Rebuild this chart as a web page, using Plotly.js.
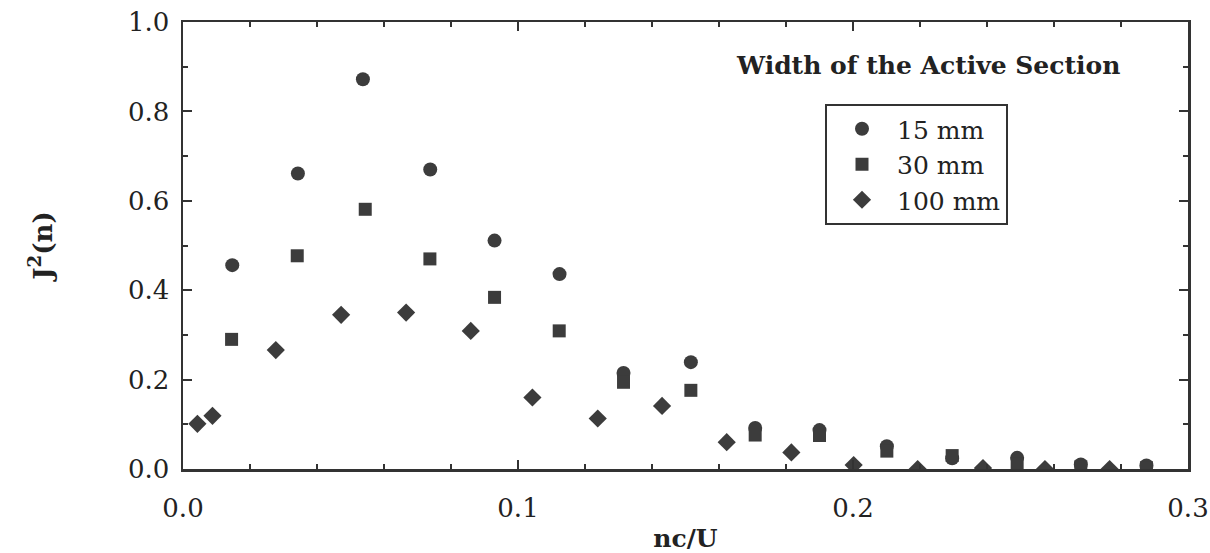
<!DOCTYPE html>
<html>
<head>
<meta charset="utf-8">
<script src="https://cdn.plot.ly/plotly-3.0.1.min.js"></script>
<style>html,body{margin:0;padding:0;background:#fff;}#chart{width:1210px;height:553px;}</style>
</head>
<body>
<div id="chart"></div>
<script>
// 15 mm (circles)
const x15 = [0.0147, 0.0343, 0.0537, 0.0738, 0.0930, 0.1124, 0.1315, 0.1516, 0.1708, 0.1900, 0.2101, 0.2296, 0.2490, 0.2680, 0.2876];
const y15 = [0.456, 0.661, 0.872, 0.670, 0.511, 0.436, 0.215, 0.239, 0.092, 0.087, 0.051, 0.024, 0.025, 0.010, 0.008];
// 30 mm (squares)
const x30 = [0.0145, 0.0341, 0.0544, 0.0737, 0.0930, 0.1123, 0.1315, 0.1516, 0.1708, 0.1900, 0.2101, 0.2296, 0.2490, 0.2680, 0.2876];
const y30 = [0.290, 0.477, 0.581, 0.470, 0.384, 0.309, 0.194, 0.176, 0.076, 0.075, 0.040, 0.030, 0.011, 0.005, 0.003];
// 100 mm (diamonds)
const x100 = [0.0043, 0.0088, 0.0277, 0.0472, 0.0666, 0.0859, 0.1043, 0.1238, 0.1430, 0.1623, 0.1816, 0.2002, 0.2193, 0.2388, 0.2573, 0.2766];
const y100 = [0.101, 0.119, 0.266, 0.345, 0.350, 0.309, 0.160, 0.113, 0.141, 0.060, 0.037, 0.009, 0.000, 0.002, 0.000, 0.000];

const seriesNames = ['15 mm', '30 mm', '100 mm'];
const xTicks = [0.0, 0.1, 0.2, 0.3];
const yTicks = [0.0, 0.2, 0.4, 0.6, 0.8, 1.0];
const panelLabel = 'Width of the Active Section';
const xTitle = 'nc/U';
const yTitle = 'J<sup>2</sup>(n)';

const ink = '#333333';
const markColor = '#3c3c3c';
const serif = 'DejaVu Serif, Liberation Serif, serif';

const traces = [
  {x: x15, y: y15, name: seriesNames[0], mode: 'markers', type: 'scatter',
   marker: {symbol: 'circle', size: 14, color: markColor}},
  {x: x30, y: y30, name: seriesNames[1], mode: 'markers', type: 'scatter',
   marker: {symbol: 'square', size: 13, color: markColor}},
  {x: x100, y: y100, name: seriesNames[2], mode: 'markers', type: 'scatter',
   marker: {symbol: 'diamond', size: 14, color: markColor}}
];

const axisCommon = {
  showline: true, linecolor: ink, linewidth: 2.5, mirror: 'ticks',
  ticks: 'inside', ticklen: 9, tickwidth: 2, tickcolor: ink,
  showgrid: false, zeroline: false,
  tickfont: {family: serif, size: 26, color: '#222'},
  tickformat: '.1f', tickmode: 'array', ticklabeloverflow: 'allow'
};

const layout = {
  width: 1210, height: 553,
  margin: {l: 183, r: 22, t: 22, b: 84},
  paper_bgcolor: '#fff', plot_bgcolor: '#fff',
  showlegend: true,
  legend: {
    x: (825-183)/1005, xanchor: 'left',
    y: 1 - (104-22)/447, yanchor: 'top',
    bordercolor: ink, borderwidth: 2, bgcolor: '#fff',
    font: {family: serif, size: 25, color: '#222'},
    tracegroupgap: 0, itemwidth: 60
  },
  xaxis: Object.assign({}, axisCommon, {
    range: [0, 0.3], tickvals: xTicks,
    minor: {dtick: 0.02, tick0: 0, ticks: 'inside', ticklen: 5, tickwidth: 2, tickcolor: ink, showgrid: false},
    ticklabelstandoff: 14,
    title: {text: '<b>' + xTitle + '</b>', font: {family: serif, size: 25, color: '#222'}, standoff: 40}
  }),
  yaxis: Object.assign({}, axisCommon, {
    range: [0, 1.0], tickvals: yTicks,
    minor: {dtick: 0.1, tick0: 0, ticks: 'inside', ticklen: 5, tickwidth: 2, tickcolor: ink, showgrid: false},
    ticklabelstandoff: 6,
    title: {text: '<b>' + yTitle + '</b>', font: {family: serif, size: 26, color: '#222'}, standoff: 68}
  }),
  annotations: [{
    text: '<b>' + panelLabel + '</b>', xref: 'paper', yref: 'paper',
    x: (1122-183)/1005, y: 1 - (65-22)/447, xanchor: 'right', yanchor: 'middle',
    showarrow: false, font: {family: serif, size: 25, color: '#222'}
  }]
};

Plotly.newPlot('chart', traces, layout, {displayModeBar: false, staticPlot: true});
</script>
</body>
</html>
